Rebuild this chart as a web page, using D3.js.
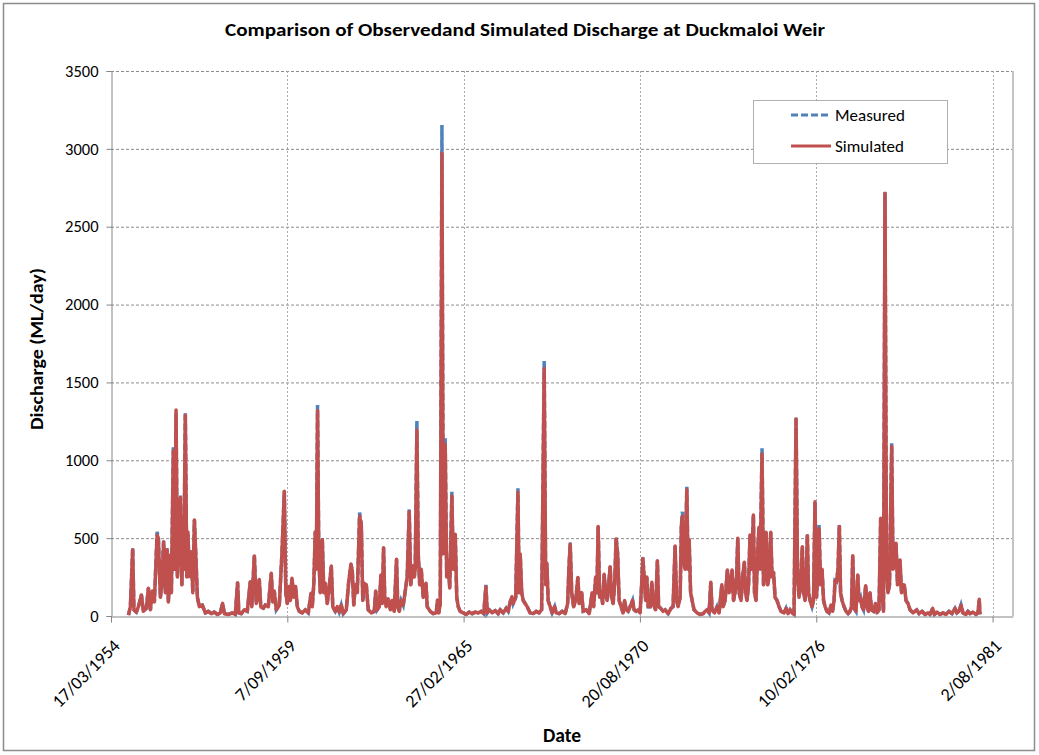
<!DOCTYPE html>
<html>
<head>
<meta charset="utf-8">
<script src="https://cdn.jsdelivr.net/npm/d3@7"></script>
<style>
  body { margin: 0; background: #fff; }
  text { font-family: Carlito, Lato, "Open Sans", sans-serif; fill: #000; }
</style>
</head>
<body>
<div id="chart"></div>
<script>
// first day of the record and the axis origin
const recordStart = "1954-10-01";
const axisStart = "1954-03-17";
const axisSpanDays = 10232;
const tickStepDays = 2000;
const yTicks = [0, 500, 1000, 1500, 2000, 2500, 3000, 3500];
const seriesNames = ["Measured", "Simulated"];

// day number in the record (days after recordStart)
const dayNo = [
  0, 22, 48, 62, 90, 113, 147, 169, 203, 226, 249, 271, 294, 325, 339, 362, 379, 399, 419, 438,
  453, 475, 487, 509, 524, 540, 555, 572, 589, 606, 617, 628, 645, 662, 674, 691, 713, 730, 748, 764,
  782, 804, 838, 872, 906, 940, 974, 1008, 1042, 1068, 1088, 1133, 1178, 1212, 1238, 1252, 1280, 1314, 1348, 1382,
  1399, 1428, 1450, 1467, 1484, 1501, 1530, 1552, 1586, 1620, 1637, 1654, 1677, 1711, 1742, 1768, 1785, 1802, 1819, 1836,
  1855, 1876, 1896, 1915, 1938, 1972, 2006, 2040, 2071, 2085, 2102, 2119, 2131, 2145, 2159, 2176, 2199, 2216, 2233, 2255,
  2278, 2301, 2318, 2346, 2369, 2391, 2414, 2437, 2471, 2497, 2524, 2539, 2556, 2573, 2596, 2622, 2641, 2658, 2675, 2698,
  2720, 2754, 2788, 2805, 2822, 2845, 2864, 2879, 2894, 2907, 2924, 2947, 2970, 2992, 3015, 3041, 3055, 3072, 3094, 3117,
  3140, 3162, 3185, 3202, 3223, 3242, 3253, 3272, 3287, 3304, 3321, 3344, 3375, 3389, 3423, 3457, 3491, 3506, 3520, 3537,
  3556, 3571, 3593, 3610, 3627, 3644, 3669, 3684, 3707, 3724, 3741, 3763, 3797, 3831, 3865, 3899, 3934, 3968, 4002, 4030,
  4055, 4070, 4092, 4126, 4160, 4194, 4217, 4251, 4285, 4308, 4330, 4350, 4364, 4393, 4418, 4432, 4444, 4461, 4478, 4500,
  4523, 4557, 4591, 4625, 4659, 4687, 4716, 4733, 4746, 4761, 4784, 4806, 4835, 4852, 4886, 4920, 4954, 4982, 4996, 5011,
  5028, 5050, 5073, 5098, 5113, 5141, 5158, 5192, 5226, 5260, 5277, 5300, 5314, 5328, 5345, 5362, 5379, 5396, 5413, 5430,
  5447, 5464, 5481, 5498, 5515, 5532, 5549, 5566, 5589, 5611, 5628, 5646, 5668, 5691, 5719, 5736, 5759, 5787, 5804, 5821,
  5835, 5850, 5867, 5880, 5895, 5918, 5937, 5952, 5980, 6000, 6014, 6037, 6065, 6088, 6122, 6156, 6178, 6201, 6218, 6235,
  6258, 6272, 6284, 6297, 6314, 6334, 6348, 6360, 6377, 6394, 6416, 6450, 6485, 6519, 6541, 6564, 6587, 6606, 6620, 6649,
  6677, 6700, 6731, 6745, 6768, 6794, 6813, 6830, 6847, 6864, 6881, 6898, 6912, 6927, 6949, 6966, 6987, 7000, 7017, 7034,
  7051, 7068, 7089, 7102, 7119, 7136, 7153, 7165, 7187, 7204, 7221, 7233, 7250, 7267, 7286, 7301, 7318, 7335, 7357, 7380,
  7403, 7437, 7460, 7482, 7505, 7528, 7550, 7573, 7590, 7607, 7624, 7644, 7658, 7675, 7686, 7701, 7715, 7732, 7754, 7771,
  7788, 7805, 7822, 7834, 7851, 7868, 7885, 7902, 7924, 7947, 7970, 7987, 8004, 8015, 8032, 8049, 8064, 8078, 8095, 8117,
  8140, 8163, 8185, 8202, 8216, 8231, 8253, 8273, 8287, 8304, 8321, 8338, 8363, 8378, 8395, 8412, 8429, 8452, 8474, 8491,
  8514, 8533, 8548, 8565, 8582, 8599, 8616, 8633, 8658, 8673, 8690, 8707, 8724, 8741, 8752, 8769, 8786, 8801, 8820, 8843,
  8866, 8900, 8942, 8968, 9002, 9036, 9070, 9092, 9123, 9143, 9172, 9206, 9240, 9274, 9308, 9342, 9376, 9398, 9421, 9444,
  9466, 9500, 9523, 9546, 9580, 9614, 9636, 9651, 9659
];

// simulated discharge (ML/day)
const simulated = [
  5, 60, 425, 40, 25, 60, 135, 30, 50, 178, 40, 160, 90, 520, 500, 120, 210, 475, 150, 425,
  90, 392, 150, 1060, 300, 1323, 250, 420, 760, 200, 574, 300, 1290, 250, 540, 253, 413, 150, 617, 390,
  120, 60, 70, 20, 30, 15, 25, 10, 20, 81, 15, 10, 20, 10, 214, 20, 15, 40, 30, 220,
  60, 385, 80, 130, 235, 60, 50, 70, 60, 274, 90, 160, 40, 70, 413, 801, 150, 80, 190, 100,
  242, 120, 190, 60, 30, 20, 40, 20, 146, 60, 200, 541, 300, 1319, 392, 150, 490, 150, 210, 80,
  190, 321, 60, 30, 60, 25, 70, 15, 40, 210, 334, 290, 70, 200, 150, 640, 590, 100, 210, 200,
  40, 20, 30, 160, 40, 60, 263, 80, 439, 120, 60, 110, 40, 100, 30, 364, 60, 30, 100, 70,
  160, 253, 670, 200, 323, 250, 300, 1195, 402, 200, 300, 120, 210, 60, 30, 15, 20, 103, 20, 80,
  2971, 400, 1100, 250, 360, 180, 770, 300, 525, 120, 60, 30, 20, 10, 25, 15, 25, 20, 30, 15,
  188, 20, 40, 20, 35, 15, 40, 20, 50, 30, 90, 124, 80, 120, 795, 150, 398, 150, 100, 80,
  60, 20, 15, 30, 20, 40, 1590, 200, 338, 100, 60, 20, 60, 20, 15, 30, 15, 80, 300, 460,
  150, 60, 100, 248, 80, 150, 30, 40, 15, 150, 60, 250, 150, 574, 120, 160, 80, 268, 150, 100,
  200, 317, 120, 80, 200, 495, 400, 100, 60, 20, 100, 40, 30, 60, 100, 40, 30, 40, 20, 200,
  370, 250, 100, 250, 60, 60, 216, 80, 40, 355, 60, 50, 30, 40, 15, 50, 60, 450, 100, 60,
  120, 580, 640, 350, 300, 810, 300, 492, 150, 100, 40, 20, 10, 15, 30, 40, 20, 216, 40, 20,
  60, 20, 200, 60, 100, 295, 150, 200, 295, 100, 150, 250, 499, 150, 100, 250, 345, 150, 100, 200,
  520, 300, 649, 150, 100, 400, 570, 300, 1040, 200, 300, 538, 200, 250, 538, 250, 280, 120, 100, 60,
  30, 20, 50, 15, 40, 20, 10, 1265, 250, 120, 200, 445, 150, 100, 200, 515, 150, 100, 60, 100,
  734, 120, 300, 560, 200, 300, 100, 60, 30, 20, 70, 30, 100, 227, 220, 300, 575, 150, 100, 60,
  30, 15, 30, 60, 387, 50, 30, 263, 100, 120, 60, 40, 195, 60, 30, 150, 40, 30, 80, 20,
  40, 627, 150, 30, 2715, 300, 150, 200, 1090, 300, 360, 467, 200, 250, 360, 150, 200, 199, 100, 80,
  40, 20, 39, 15, 30, 10, 20, 10, 49, 10, 25, 10, 20, 10, 30, 15, 49, 20, 30, 71,
  20, 10, 30, 15, 25, 10, 20, 107, 10
];

// measured discharge (ML/day)
const measured = [
  5, 60, 440, 40, 25, 60, 135, 30, 50, 178, 40, 160, 90, 541, 505, 120, 210, 484, 150, 435,
  90, 392, 150, 1087, 300, 1300, 250, 420, 773, 200, 574, 300, 1310, 250, 540, 253, 413, 150, 617, 390,
  120, 60, 70, 20, 30, 15, 25, 10, 20, 81, 15, 10, 20, 10, 214, 20, 15, 40, 30, 220,
  60, 392, 80, 130, 235, 60, 50, 70, 60, 274, 90, 160, 40, 70, 413, 801, 150, 80, 190, 100,
  242, 120, 190, 60, 30, 20, 40, 20, 146, 60, 200, 541, 300, 1355, 392, 150, 499, 150, 210, 80,
  190, 321, 60, 30, 60, 25, 70, 15, 40, 210, 334, 290, 70, 200, 150, 664, 590, 100, 210, 200,
  40, 20, 30, 160, 40, 60, 263, 80, 439, 120, 60, 110, 40, 100, 30, 364, 60, 30, 100, 70,
  160, 253, 685, 200, 323, 250, 300, 1254, 402, 200, 300, 120, 210, 60, 30, 15, 20, 103, 20, 80,
  3153, 400, 1141, 250, 360, 180, 798, 300, 525, 120, 60, 30, 20, 10, 25, 15, 25, 20, 30, 15,
  200, 20, 40, 20, 35, 15, 40, 20, 50, 30, 90, 124, 80, 120, 820, 150, 398, 150, 100, 80,
  60, 20, 15, 30, 20, 40, 1640, 200, 338, 100, 60, 20, 60, 20, 15, 30, 15, 80, 300, 471,
  150, 60, 100, 248, 80, 150, 30, 40, 15, 150, 60, 250, 150, 574, 120, 160, 80, 268, 150, 100,
  200, 317, 120, 80, 200, 509, 400, 100, 60, 20, 100, 40, 30, 60, 100, 40, 30, 40, 20, 200,
  377, 250, 100, 250, 60, 60, 216, 80, 40, 355, 60, 50, 30, 40, 15, 50, 60, 450, 100, 60,
  120, 580, 670, 350, 300, 830, 300, 492, 150, 100, 40, 20, 10, 15, 30, 40, 20, 216, 40, 20,
  60, 20, 200, 60, 100, 295, 150, 200, 295, 100, 150, 250, 499, 150, 100, 250, 345, 150, 100, 200,
  520, 300, 649, 150, 100, 400, 570, 300, 1077, 200, 300, 538, 200, 250, 538, 250, 280, 120, 100, 60,
  30, 20, 50, 15, 40, 20, 10, 1280, 250, 120, 200, 445, 150, 100, 200, 525, 150, 100, 60, 100,
  734, 120, 300, 584, 200, 300, 100, 60, 30, 20, 70, 30, 100, 227, 220, 300, 584, 150, 100, 60,
  30, 15, 30, 60, 387, 50, 30, 263, 100, 120, 60, 40, 195, 60, 30, 150, 40, 30, 80, 20,
  40, 627, 150, 30, 2721, 300, 150, 200, 1109, 300, 360, 467, 200, 250, 360, 150, 200, 199, 100, 80,
  40, 20, 39, 15, 30, 10, 20, 10, 49, 10, 25, 10, 20, 10, 30, 15, 49, 20, 30, 71,
  20, 10, 30, 15, 25, 10, 20, 107, 10
];

const width = 1039, height = 755;
const plot = { left: 111, right: 1013, top: 71, bottom: 616 };
const colors = { Measured: "#4F81BD", Simulated: "#C0504D" };
const gridColor = "#8c8c8c";

const parse = d3.utcParse("%Y-%m-%d");
const t0 = parse(axisStart);
const r0 = parse(recordStart);

const svg = d3.select("#chart").append("svg")
  .attr("width", width)
  .attr("height", height);

// chart frame
svg.append("rect")
  .attr("x", 3.5).attr("y", 3.5)
  .attr("width", 1031).attr("height", 747)
  .attr("fill", "#fff")
  .attr("stroke", "#8c8c8c")
  .attr("stroke-width", 1.5);

const x = d3.scaleUtc()
  .domain([t0, d3.utcDay.offset(t0, axisSpanDays)])
  .range([plot.left, plot.right]);

const y = d3.scaleLinear()
  .domain([0, 3500])
  .range([plot.bottom, plot.top]);

const xTickDates = d3.range(0, axisSpanDays, tickStepDays).map(d => d3.utcDay.offset(t0, d));

// gridlines
svg.append("g").selectAll("line.hgrid")
  .data(yTicks.filter(v => v > 0))
  .join("line")
  .attr("x1", plot.left).attr("x2", plot.right)
  .attr("y1", d => y(d) + 0.5).attr("y2", d => y(d) + 0.5)
  .attr("stroke", gridColor)
  .attr("stroke-dasharray", "3,2");

svg.append("g").selectAll("line.vgrid")
  .data(xTickDates.slice(1))
  .join("line")
  .attr("x1", d => Math.round(x(d)) + 0.5).attr("x2", d => Math.round(x(d)) + 0.5)
  .attr("y1", plot.top).attr("y2", plot.bottom)
  .attr("stroke", "#aaa")
  .attr("stroke-dasharray", "2,2");

// right edge of plot area
svg.append("line")
  .attr("x1", plot.right).attr("x2", plot.right)
  .attr("y1", plot.top).attr("y2", plot.bottom)
  .attr("stroke", "#c4c4c4").attr("stroke-width", 2);

// build series rows
const rows = dayNo.map((d, i) => ({
  date: d3.utcDay.offset(r0, d),
  measured: measured[i],
  simulated: simulated[i]
}));

const lineM = d3.line().x(d => x(d.date)).y(d => y(d.measured));
const lineS = d3.line().x(d => x(d.date)).y(d => y(d.simulated));

svg.append("path")
  .datum(rows)
  .attr("d", lineM)
  .attr("fill", "none")
  .attr("stroke", colors.Measured)
  .attr("stroke-width", 3.5)
  .attr("stroke-dasharray", "7,3");

svg.append("path")
  .datum(rows)
  .attr("d", lineS)
  .attr("fill", "none")
  .attr("stroke", colors.Simulated)
  .attr("stroke-width", 3.5)
  .attr("stroke-linejoin", "round");

// axes
const yAxis = svg.append("g")
  .attr("transform", `translate(${plot.left + 0.5},0)`)
  .call(d3.axisLeft(y).tickValues(yTicks).tickSize(5).tickPadding(8).tickFormat(d3.format("d")));
yAxis.select(".domain").attr("stroke", "#868686");
yAxis.selectAll(".tick line").attr("stroke", "#868686");
yAxis.selectAll("text").style("font-size", "16.5px");

const xAxis = svg.append("g")
  .attr("transform", `translate(0,${plot.bottom + 0.5})`)
  .call(d3.axisBottom(x).tickValues(xTickDates).tickSize(6).tickSizeOuter(0)
    .tickFormat(d3.utcFormat("%-d/%m/%Y")));
xAxis.select(".domain").attr("stroke", "#868686");
xAxis.selectAll(".tick line").attr("stroke", "#868686");
xAxis.selectAll("text")
  .attr("x", 0).attr("y", 0).attr("dy", "0.35em")
  .attr("text-anchor", "end")
  .attr("transform", "translate(5,26) rotate(-45)")
  .style("font-size", "18px");

// titles
svg.append("text")
  .attr("x", 525).attr("y", 36)
  .attr("text-anchor", "middle")
  .attr("textLength", 600).attr("lengthAdjust", "spacingAndGlyphs")
  .style("font-size", "18.5px").style("font-weight", "bold")
  .text("Comparison of Observedand Simulated Discharge at Duckmaloi Weir");

svg.append("text")
  .attr("transform", "translate(43,349) rotate(-90)")
  .attr("text-anchor", "middle")
  .attr("textLength", 162).attr("lengthAdjust", "spacingAndGlyphs")
  .style("font-size", "18.5px").style("font-weight", "bold")
  .text("Discharge (ML/day)");

svg.append("text")
  .attr("x", 562).attr("y", 742)
  .attr("text-anchor", "middle")
  .style("font-size", "19.5px").style("font-weight", "bold")
  .text("Date");

// legend
const legend = svg.append("g").attr("transform", "translate(753,100)");
legend.append("rect")
  .attr("x", 0.5).attr("y", 0.5)
  .attr("width", 194).attr("height", 63)
  .attr("fill", "#fff")
  .attr("stroke", "#b0b0b0");

const item = legend.selectAll("g.item")
  .data(seriesNames)
  .join("g")
  .attr("transform", (d, i) => `translate(0,${15 + i * 31})`);

item.append("line")
  .attr("x1", 38).attr("x2", 78)
  .attr("stroke", d => colors[d])
  .attr("stroke-width", 3)
  .attr("stroke-dasharray", d => d === "Measured" ? "7,3" : null);

item.append("text")
  .attr("x", 82).attr("dy", "0.35em")
  .style("font-size", "17px")
  .text(d => d);
</script>
</body>
</html>
